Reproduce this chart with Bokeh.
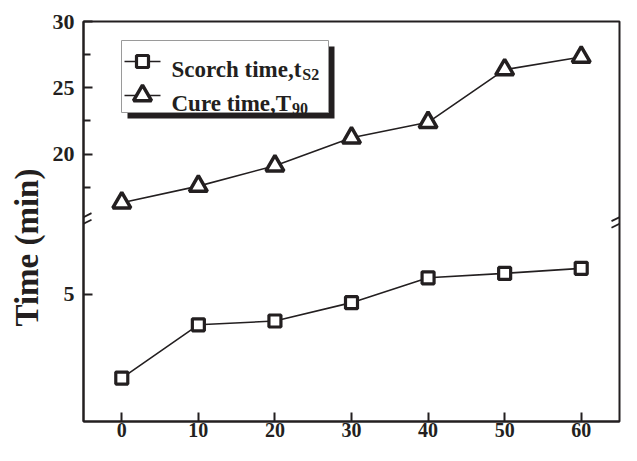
from bokeh.plotting import figure
from bokeh.models import (Range1d, FixedTicker, CustomJSTickFormatter, BoxAnnotation, Arrow, Title)
from bokeh.core.properties import value
from bokeh.embed import file_html
from bokeh.resources import INLINE

# ---------------- data ----------------
loading = [0, 10, 20, 30, 40, 50, 60]
scorch_time = [2.17, 3.97, 4.10, 4.72, 5.56, 5.71, 5.88]
cure_time = [16.34, 17.59, 19.13, 21.23, 22.40, 26.37, 27.32]
x_ticks = [0, 10, 20, 30, 40, 50, 60]
upper_ticks = [20, 25, 30]
upper_minor = [17.5, 22.5, 27.5]
lower_ticks = [5]
series_names = ["Scorch time,t", "Cure time,T"]
series_subs = ["S2", "90"]
series_markers = ["square", "triangle"]
y_title = "Time (min)"

# ---------------- layout ----------------
X_LO, X_HI = -5, 65
C_LO, C_HI = 15, 30      # upper segment (cure time)
S_LO, S_HI = 0.7, 7.5    # lower segment (scorch time)
F_UP = 0.4974            # share of the frame height taken by the upper segment

W, H = 621, 445
BL, BR, BT, BB = 83, 2, 21, 24
FW, FH = W - BL - BR, H - BT - BB
INK = "#231f20"
FONT = "Liberation Serif"
MSIZE = {"square": 12, "triangle": 18}
MLW = {"square": 3.2, "triangle": 3.5}

c_start = C_LO - (C_HI - C_LO) * (1 - F_UP) / F_UP
s_end = S_HI + (S_HI - S_LO) * F_UP / (1 - F_UP)


def s_to_c(v):
    return c_start + (v - S_LO) / (s_end - S_LO) * (C_HI - c_start)


def cx(px):   # canvas px -> x data
    return X_LO + (px - BL) / FW * (X_HI - X_LO)


def cy(py):   # canvas px -> y data (default range)
    return C_HI - (py - BT) / FH * (C_HI - c_start)


p = figure(width=W, height=H, output_backend="svg", toolbar_location=None,
           x_range=Range1d(X_LO, X_HI), y_range=Range1d(c_start, C_HI),
           min_border_left=BL, min_border_right=BR, min_border_top=BT, min_border_bottom=BB)
p.extra_y_ranges = {"scorch": Range1d(S_LO, s_end)}
p.xgrid.visible = False
p.ygrid.visible = False
p.outline_line_color = INK
p.outline_line_width = 2
p.outline_line_alpha = 1
p.background_fill_color = "white"
p.border_fill_color = "white"

# y title on the left, placed along the axis by offset from the bottom
p.add_layout(Title(text=y_title, align="left", offset=95, standoff=10,
                   text_font=FONT, text_font_style="bold", text_font_size="33px",
                   text_color=INK), "left")

# x axis
xa = p.xaxis[0]
xa.ticker = FixedTicker(ticks=x_ticks, minor_ticks=[])
xa.major_tick_in = 9
xa.major_tick_out = 0
xa.minor_tick_in = 0
xa.minor_tick_out = 0
xa.axis_line_color = INK
xa.axis_line_width = 2
xa.major_tick_line_color = INK
xa.major_tick_line_width = 2
xa.major_label_standoff = 1
xa.major_label_text_font = FONT
xa.major_label_text_font_style = "bold"
xa.major_label_text_font_size = "20px"
xa.major_label_text_color = INK

# y axis (broken: upper = cure-time scale, lower = scorch-time scale)
ya = p.yaxis[0]
ya.ticker = FixedTicker(ticks=[s_to_c(t) for t in lower_ticks] + upper_ticks,
                        minor_ticks=upper_minor)
ya.formatter = CustomJSTickFormatter(
    args=dict(brk=C_LO, c0=c_start, c1=C_HI, s0=S_LO, s1=s_end),
    code="""
    if (tick >= brk - 1e-9) { return tick.toFixed(0); }
    const v = s0 + (tick - c0) / (c1 - c0) * (s1 - s0);
    return v.toFixed(0);
    """)
ya.major_tick_in = 9
ya.major_tick_out = 0
ya.minor_tick_in = 7
ya.minor_tick_out = 0
ya.axis_line_color = INK
ya.axis_line_width = 2
ya.major_tick_line_color = INK
ya.major_tick_line_width = 2
ya.minor_tick_line_color = INK
ya.minor_tick_line_width = 2
ya.major_label_standoff = 9
ya.major_label_text_font = FONT
ya.major_label_text_font_style = "bold"
ya.major_label_text_font_size = "22px"
ya.major_label_text_color = INK

# ---------------- series ----------------
p.line(loading, cure_time, line_color=INK, line_width=1.6)
p.scatter(loading, cure_time, marker="triangle", size=MSIZE["triangle"],
          line_width=MLW["triangle"], line_color=INK, fill_color="white")
p.line(loading, scorch_time, y_range_name="scorch", line_color=INK, line_width=1.6)
p.scatter(loading, scorch_time, y_range_name="scorch", marker="square",
          size=MSIZE["square"], line_width=MLW["square"], line_color=INK, fill_color="white")

# ---------------- legend box with shadow (canvas px) ----------------
LG_L, LG_T, LG_R, LG_B = 121, 40, 328, 112
SH = 6
ROWS = [61, 95]
G_X0, G_X1 = 124, 160
TXT_X = 171
TXT_SIZE = 23
SUB_SIZE = 16


def sbox(l, t, r, b, **kw):
    return BoxAnnotation(left=l - BL, right=r - BL, top=FH - (t - BT), bottom=FH - (b - BT),
                         left_units="screen", right_units="screen",
                         top_units="screen", bottom_units="screen", **kw)


p.add_layout(sbox(LG_L + SH, LG_T + SH, LG_R + SH, LG_B + SH,
                  fill_color=INK, fill_alpha=1, line_color=None))
p.add_layout(sbox(LG_L, LG_T, LG_R, LG_B, fill_color="white", fill_alpha=1,
                  line_color="#9a9a9a", line_width=1, line_alpha=1))

seg = p.segment(x0=[cx(G_X0)] * 2, x1=[cx(G_X1)] * 2, y0=[cy(r) for r in ROWS],
                y1=[cy(r) for r in ROWS], line_color=INK, line_width=1.6)
seg.level = "overlay"
for k, m in enumerate(series_markers):
    r = p.scatter([cx((G_X0 + G_X1) / 2)], [cy(ROWS[k])], marker=m, size=MSIZE[m],
                  line_width=MLW[m], line_color=INK, fill_color="white")
    r.level = "overlay"

lt = p.text(x=[cx(TXT_X)] * 2, y=[cy(r + 8) for r in ROWS], text=series_names,
            text_font=value(FONT), text_font_style="bold",
            text_font_size=f"{TXT_SIZE}px", text_color=INK,
            text_align="left", text_baseline="alphabetic")
lt.level = "overlay"

# subscripts after the labels (Times-Bold advance widths, 1/1000 em)
adv = {"S": 556, "c": 444, "o": 500, "r": 444, "h": 556, " ": 250, "t": 333, "i": 278,
       "m": 833, "e": 444, ",": 250, "C": 722, "u": 556, "T": 667}
sub_x = [cx(TXT_X + sum(adv.get(ch, 500) for ch in name) * TXT_SIZE / 1000.0 + 0.5)
         for name in series_names]
sub_y = [cy(r + 13) for r in ROWS]
st = p.text(x=sub_x, y=sub_y, text=series_subs, text_font=value(FONT),
            text_font_style="bold", text_font_size=f"{SUB_SIZE}px", text_color=INK,
            text_align="left", text_baseline="alphabetic")
st.level = "overlay"

# axis-break marks on both vertical sides
yb = FH * (1 - F_UP)
for xb in (0, FW):
    for dy in (-3.3, 3.3):
        p.add_layout(Arrow(end=None, x_start=xb - 8, y_start=yb + dy - 4,
                           x_end=xb + 8, y_end=yb + dy + 4,
                           start_units="screen", end_units="screen",
                           line_color=INK, line_width=1.8))

open("out.html", "w").write(file_html(p, INLINE))
